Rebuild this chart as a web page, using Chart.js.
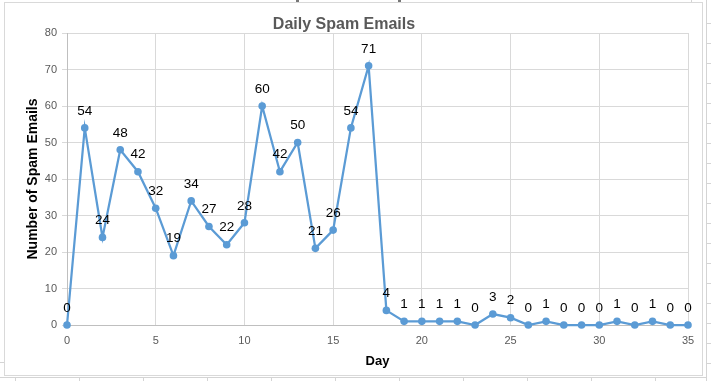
<!DOCTYPE html>
<html>
<head>
<meta charset="utf-8">
<script src="https://cdn.jsdelivr.net/npm/chart.js@4/dist/chart.umd.min.js"></script>
<style>
  html, body { margin: 0; padding: 0; background: #ffffff; }
  #wrap { width: 711px; height: 381px; }
</style>
</head>
<body>
<div id="wrap"><canvas id="c" width="711" height="381"></canvas></div>
<script>
const days = [0,1,2,3,4,5,6,7,8,9,10,11,12,13,14,15,16,17,18,19,20,21,22,23,24,25,26,27,28,29,30,31,32,33,34,35];
const spamCounts = [0,54,24,48,42,32,19,34,27,22,28,60,42,50,21,26,54,71,4,1,1,1,1,0,3,2,0,1,0,0,0,1,0,1,0,0];
const chartTitle = 'Daily Spam Emails';
const xTitle = 'Day';
const yTitle = 'Number of Spam Emails';
const xTickStep = 5;
const yTickStep = 10;
const xRange = [0, 35];
const yRange = [0, 80];

const points = days.map((d, i) => ({ x: d, y: spamCounts[i] }));
const FONT = '"Liberation Sans", Arial, sans-serif';

const sheetBackground = {
  id: 'sheetBackground',
  beforeDraw(chart) {
    const ctx = chart.ctx;
    ctx.save();
    ctx.fillStyle = '#ffffff';
    ctx.fillRect(0, 0, chart.width, chart.height);
    ctx.strokeStyle = '#d4d4d4';
    ctx.lineWidth = 1;
    ctx.beginPath();
    ctx.moveTo(706.5, 0); ctx.lineTo(706.5, 381);
    for (let y = 23; y <= 381; y += 20) { ctx.moveTo(706, y + 0.5); ctx.lineTo(711, y + 0.5); }
    ctx.moveTo(0, 377.5); ctx.lineTo(706, 377.5);
    for (let x = 15; x < 706; x += 64) { ctx.moveTo(x + 0.5, 377); ctx.lineTo(x + 0.5, 381); }
    ctx.moveTo(0, 362.5); ctx.lineTo(4, 362.5);
    ctx.moveTo(691.5, 0); ctx.lineTo(691.5, 2);
    ctx.stroke();
    ctx.fillStyle = '#777777';
    ctx.fillRect(296, 0, 3, 2);
    ctx.fillRect(398, 0, 3, 2);
    ctx.strokeStyle = '#d9d9d9';
    ctx.strokeRect(4.5, 2.5, 698, 373);
    ctx.restore();
  }
};

const valueLabels = {
  id: 'valueLabels',
  afterDatasetsDraw(chart) {
    const ctx = chart.ctx;
    const meta = chart.getDatasetMeta(0);
    ctx.save();
    ctx.font = '13.5px ' + FONT;
    ctx.fillStyle = '#000000';
    ctx.textAlign = 'center';
    ctx.textBaseline = 'middle';
    meta.data.forEach((el, i) => {
      ctx.fillText(String(spamCounts[i]), el.x, el.y - 17);
    });
    ctx.restore();
  }
};

new Chart(document.getElementById('c'), {
  type: 'line',
  data: {
    datasets: [{
      data: points,
      borderColor: '#5B9BD5',
      backgroundColor: '#5B9BD5',
      borderWidth: 2.25,
      pointRadius: 3.8,
      pointHoverRadius: 3.8,
      pointBorderWidth: 0,
      tension: 0,
      fill: false,
      clip: false
    }]
  },
  options: {
    responsive: false,
    animation: false,
    events: [],
    layout: { padding: { left: 0, right: 23, top: 0, bottom: 0 } },
    plugins: {
      legend: { display: false },
      tooltip: { enabled: false },
      title: {
        display: true,
        text: chartTitle,
        color: '#595959',
        font: { family: FONT, size: 16, weight: 'bold', lineHeight: 1 },
        padding: { top: 16.5, bottom: 0.5 }
      }
    },
    scales: {
      x: {
        type: 'linear',
        min: xRange[0],
        max: xRange[1],
        ticks: {
          stepSize: xTickStep,
          color: '#595959',
          font: { family: FONT, size: 11 },
          padding: 9,
          maxRotation: 0
        },
        grid: { color: '#d9d9d9', drawTicks: false, lineWidth: 1 },
        border: { color: '#bfbfbf' },
        title: {
          display: true,
          text: xTitle,
          color: '#000000',
          font: { family: FONT, size: 13, weight: 'bold', lineHeight: 1.2 },
          padding: { top: 0, bottom: 12 }
        },
        afterFit(scale) { scale.height = 56; }
      },
      y: {
        type: 'linear',
        min: yRange[0],
        max: yRange[1],
        ticks: {
          stepSize: yTickStep,
          color: '#595959',
          font: { family: FONT, size: 11 },
          padding: 5
        },
        grid: { color: '#d9d9d9', drawTicks: true, tickLength: 5, lineWidth: 1 },
        border: { color: '#bfbfbf' },
        title: {
          display: true,
          text: yTitle,
          color: '#000000',
          font: { family: FONT, size: 14, weight: 'bold', lineHeight: 1.2 },
          padding: { top: 24.6, bottom: 0 }
        },
        afterFit(scale) { scale.width = 67; }
      }
    }
  },
  plugins: [sheetBackground, valueLabels]
});
</script>
</body>
</html>
